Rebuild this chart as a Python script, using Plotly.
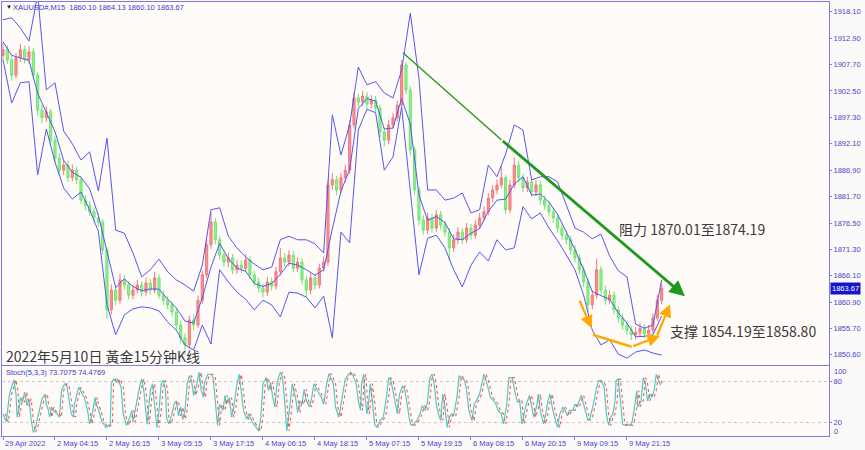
import plotly.graph_objects as go

# ---------------- data ----------------
# hourly candles (each = 4 bars of M15), bar index = 4*k
OPEN = [1909.5,1910.6,1908.6,1905.6,1909.0,1910.6,1908.6,1910.2,1905.6,1898.7,
1897.2,1898.4,1892.8,1889.3,1886.9,1887.9,1885.4,1886.9,1885.0,1881.0,
1880.0,1878.7,1877.5,1876.7,1871.2,1859.4,1863.3,1861.3,1865.3,1864.3,
1862.3,1863.3,1864.3,1862.9,1864.7,1863.3,1865.7,1862.3,1861.3,1860.4,
1859.0,1856.4,1853.9,1852.5,1857.4,1856.4,1861.3,1866.3,1872.2,1876.7,
1873.2,1870.2,1868.8,1869.6,1867.3,1868.2,1867.6,1869.2,1866.3,1864.9,
1863.7,1862.9,1864.9,1864.1,1866.9,1869.6,1868.8,1870.2,1867.6,1868.8,
1865.3,1863.3,1865.7,1864.3,1867.6,1868.8,1884.0,1885.0,1883.0,1885.4,
1886.9,1895.8,1901.1,1900.3,1901.5,1899.9,1900.7,1899.1,1894.4,1892.8,
1895.8,1897.2,1899.7,1907.6,1902.7,1890.9,1883.0,1877.1,1875.1,1877.5,
1875.5,1878.1,1876.1,1874.7,1871.6,1873.2,1874.7,1873.2,1875.5,1874.1,
1876.1,1877.5,1878.7,1881.4,1883.0,1884.0,1885.4,1879.1,1884.0,1887.9,
1885.4,1883.4,1884.6,1882.6,1884.0,1881.0,1880.0,1878.7,1877.5,1875.5,
1874.1,1873.2,1871.2,1869.6,1867.3,1864.9,1860.4,1862.3,1867.3,1863.3,
1861.3,1862.3,1859.4,1857.8,1856.4,1855.4,1854.5,1855.0,1855.8,1854.7,
1855.4,1857.8,1861.3]
HIGH = [1912.0,1911.5,1909.3,1910.0,1911.8,1911.4,1911.3,1910.9,1906.2,1899.8,
1899.5,1899.0,1893.6,1890.2,1889.0,1888.8,1888.0,1887.6,1885.8,1881.9,
1880.8,1879.6,1878.4,1877.3,1871.8,1864.4,1864.2,1866.5,1866.2,1865.0,
1864.3,1865.3,1865.0,1865.8,1865.5,1866.9,1866.4,1863.2,1862.1,1861.2,
1859.8,1857.2,1854.8,1858.3,1858.5,1862.2,1867.2,1873.3,1878.6,1877.5,
1874.0,1871.1,1870.7,1870.4,1869.3,1869.2,1870.4,1870.0,1867.1,1865.7,
1864.6,1865.9,1865.8,1867.9,1871.6,1870.6,1871.2,1871.0,1869.8,1869.6,
1866.1,1866.6,1866.5,1868.5,1869.9,1885.0,1886.3,1885.8,1886.4,1888.0,
1896.8,1902.3,1902.0,1902.5,1902.3,1901.7,1901.5,1899.8,1895.2,1896.8,
1898.2,1900.6,1908.6,1908.2,1903.4,1891.6,1883.7,1878.0,1878.5,1878.3,
1879.1,1878.9,1876.9,1875.5,1874.2,1875.7,1875.5,1876.5,1876.3,1877.1,
1878.5,1879.7,1882.4,1884.0,1885.0,1887.6,1886.0,1885.0,1889.4,1888.7,
1886.2,1885.6,1885.4,1885.0,1884.8,1881.9,1880.8,1879.5,1878.3,1876.3,
1875.0,1874.0,1872.1,1870.4,1868.1,1865.6,1863.3,1869.5,1868.0,1864.2,
1863.3,1863.0,1860.2,1858.6,1857.3,1856.3,1856.0,1856.8,1856.6,1856.4,
1858.8,1862.3,1864.6]
LOW = [1908.6,1907.8,1904.5,1905.0,1908.2,1907.9,1907.8,1904.8,1897.5,1896.1,
1896.4,1891.9,1888.5,1885.8,1886.0,1884.5,1884.7,1884.1,1880.2,1879.0,
1877.9,1876.6,1875.8,1870.3,1857.6,1858.5,1860.3,1860.6,1863.4,1861.4,
1861.5,1862.6,1862.0,1862.2,1862.4,1862.7,1861.5,1860.4,1859.5,1858.1,
1855.5,1852.8,1850.6,1851.8,1855.4,1855.8,1860.6,1865.6,1871.4,1872.3,
1869.3,1867.9,1867.8,1866.4,1866.5,1866.7,1866.9,1865.4,1864.0,1862.8,
1861.9,1862.1,1863.2,1863.4,1866.2,1867.9,1868.0,1866.8,1866.9,1864.4,
1861.8,1862.5,1863.4,1863.6,1866.9,1868.0,1883.0,1882.0,1882.3,1884.6,
1886.2,1895.1,1899.3,1899.5,1899.0,1899.0,1898.2,1893.4,1891.6,1892.0,
1895.0,1896.5,1899.0,1901.8,1889.8,1882.0,1876.0,1874.2,1874.3,1874.6,
1874.8,1875.2,1873.8,1869.0,1870.8,1872.4,1872.3,1872.5,1873.2,1873.4,
1875.4,1876.8,1878.0,1880.6,1882.2,1883.3,1878.2,1878.4,1883.3,1884.5,
1882.5,1882.6,1881.7,1881.8,1880.1,1879.1,1877.8,1876.6,1874.6,1873.2,
1872.3,1870.3,1868.7,1866.4,1863.9,1859.0,1859.5,1861.6,1862.4,1860.4,
1860.5,1858.5,1856.9,1855.5,1854.5,1853.4,1853.6,1854.2,1853.8,1853.9,
1854.7,1857.1,1860.5]
CLOSE = [1910.6,1908.6,1905.6,1909.0,1910.6,1908.6,1910.2,1905.6,1898.7,1897.2,
1898.4,1892.8,1889.3,1886.9,1887.9,1885.4,1886.9,1885.0,1881.0,1880.0,
1878.7,1877.5,1876.7,1871.2,1859.4,1863.3,1861.3,1865.3,1864.3,1862.3,
1863.3,1864.3,1862.9,1864.7,1863.3,1865.7,1862.3,1861.3,1860.4,1859.0,
1856.4,1853.9,1852.5,1857.4,1856.4,1861.3,1866.3,1872.2,1876.7,1873.2,
1870.2,1868.8,1869.6,1867.3,1868.2,1867.6,1869.2,1866.3,1864.9,1863.7,
1862.9,1864.9,1864.1,1866.9,1869.6,1868.8,1870.2,1867.6,1868.8,1865.3,
1863.3,1865.7,1864.3,1867.6,1868.8,1884.0,1885.0,1883.0,1885.4,1886.9,
1895.8,1901.1,1900.3,1901.5,1899.9,1900.7,1899.1,1894.4,1892.8,1895.8,
1897.2,1899.7,1907.6,1902.7,1890.9,1883.0,1877.1,1875.1,1877.5,1875.5,
1878.1,1876.1,1874.7,1871.6,1873.2,1874.7,1873.2,1875.5,1874.1,1876.1,
1877.5,1878.7,1881.4,1883.0,1884.0,1885.4,1879.1,1884.0,1887.9,1885.4,
1883.4,1884.6,1882.6,1884.0,1881.0,1880.0,1878.7,1877.5,1875.5,1874.1,
1873.2,1871.2,1869.6,1867.3,1864.9,1860.4,1862.3,1867.3,1863.3,1861.3,
1862.3,1859.4,1857.8,1856.4,1855.4,1854.5,1855.0,1855.8,1854.7,1855.4,
1857.8,1861.3,1863.67]

# Bollinger bands, sampled every 8 bars
BB_UPPER = [1916.5,1916.9,1914.9,1912.3,1921.5,1902.7,1904.1,1894.6,1892.1,1888.9,
1890.5,1882.8,1893.2,1875.1,1874.5,1870.6,1865.9,1867.3,1869.4,1866.9,
1865.3,1864.3,1863.1,1868.2,1879.1,1879.5,1873.9,1871.6,1869.8,1868.4,
1867.3,1867.8,1873.2,1873.9,1873.2,1873.2,1872.4,1870.6,1897.8,1889.9,
1895.8,1907.2,1903.7,1904.3,1902.1,1901.1,1906.6,1917.8,1905.0,1883.0,
1883.0,1881.0,1881.4,1882.4,1878.5,1879.1,1887.9,1885.6,1890.1,1895.8,
1894.8,1885.0,1885.6,1885.6,1884.6,1880.0,1875.5,1874.7,1873.4,1874.3,
1870.0,1867.1,1865.9,1856.6,1855.8,1856.4,1865.3]
BB_MIDDLE = [1912.2,1909.5,1909.0,1908.5,1902.0,1898.3,1894.5,1888.8,1886.5,1885.5,
1883.2,1878.0,1871.0,1863.8,1865.5,1864.0,1863.2,1863.5,1863.5,1861.5,
1859.8,1857.2,1856.8,1861.8,1867.8,1872.5,1869.5,1867.6,1867.0,1864.6,
1864.0,1864.6,1866.4,1868.6,1868.2,1867.3,1866.2,1867.3,1875.3,1882.8,
1887.0,1899.0,1901.0,1900.5,1895.0,1895.2,1901.0,1896.0,1882.0,1877.0,
1877.8,1876.6,1873.4,1873.2,1874.5,1875.4,1878.8,1881.0,1881.2,1884.2,
1885.6,1882.0,1882.2,1880.6,1878.2,1874.9,1871.3,1867.3,1863.0,1862.2,
1861.5,1858.8,1856.8,1854.1,1854.2,1854.5,1858.2]
BB_LOWER = [1908.6,1900.1,1904.1,1904.3,1886.0,1895.0,1888.5,1883.4,1881.2,1882.6,
1879.1,1874.9,1860.4,1854.5,1858.4,1859.6,1860.0,1859.8,1859.2,1857.0,
1855.4,1852.5,1851.5,1856.4,1852.7,1867.3,1864.9,1862.9,1861.5,1859.4,
1861.3,1860.4,1858.0,1862.9,1862.7,1861.9,1859.8,1862.1,1853.9,1874.7,
1872.6,1894.8,1898.9,1898.2,1886.9,1889.5,1899.3,1883.0,1866.3,1873.5,
1874.1,1871.6,1867.3,1863.9,1868.2,1870.8,1869.0,1873.2,1871.2,1871.6,
1879.7,1877.3,1878.5,1875.5,1873.0,1870.2,1867.3,1862.3,1855.4,1852.5,
1853.5,1850.7,1849.9,1851.1,1851.5,1850.9,1850.5]

# Stochastic (5,3,3) main line: bar index / value
STOCH_BAR = [0,3,6,10,12,13,15,16,18,20,
22,24,26,28,30,33,36,39,40,42,
43,45,46,50,52,54,57,59,61,63,
65,66,69,70,73,75,78,80,83,85,
86,88,91,95,99,100,102,105,106,109,
111,114,117,119,120,123,126,128,130,133,
134,136,138,140,142,144,146,148,150,151,
153,156,158,160,162,164,166,168,170,172,
174,176,179,181,183,185,186,189,192,194,
196,198,200,203,205,206,209,211,213,216,
218,220,222,225,227,230,232,234,236,238,
240,243,245,247,249,251,253,256,258,260,
262,265,267,270,272,274,276,278,280,283,
285,287,290,292,294,296,299,301,
305,307,310,313,316,319,321,323,326,328,
330,331,333,334,336,338,339,341,343,345,
348,351,354,356,358,360,362,364,366,369,
371,373,376,378,382,385,387,390,392,394,
396,398,400,402,404,406,408,410,412,414,
416,419,421,423,426,428,430,433,435,437,
440,442,444,446,448,450,453,455,457,460,
462,465,467,470,473,475,477,479,481,483,
486,488,490,493,494,496,499,501,503,505,
507,510,512,514,517,519,521,523,526,528,
530,533,534,536,538,540,542,545,548,550,
553,555,557,559,561,563,565,566,568,570,
572,574,576,579,581,583,585,586,589,591,
593,595,597,599,601,603,605,607]
STOCH_MAIN = [32,20,61,82,61,27,42,56,49,64,
44,54,24,5,12,32,54,61,46,37,
27,42,37,32,27,66,76,73,51,32,
27,46,66,71,61,56,37,17,37,56,
46,39,22,12,17,76,83,78,83,71,
32,15,27,37,20,46,71,83,66,17,
32,66,76,46,12,37,76,81,66,27,
17,32,46,51,29,42,24,37,76,88,
81,59,76,93,66,56,78,90,90,85,
51,15,46,37,59,46,56,27,42,76,
90,66,37,24,32,20,15,12,7,27,
76,85,66,78,56,42,78,93,85,51,
7,46,76,56,34,51,46,68,51,42,
56,76,66,61,56,46,78,91,
76,42,27,56,83,90,93,88,76,51,
37,76,90,61,32,56,76,51,17,12,
22,27,56,85,81,66,46,32,61,73,
66,46,17,15,22,32,44,37,51,85,
90,76,46,32,22,61,42,12,27,32,
29,56,88,85,81,66,37,22,46,51,
61,76,90,81,66,56,51,46,37,32,
17,46,85,85,61,49,51,17,32,46,
59,42,27,46,61,37,17,32,51,61,
42,22,12,32,42,37,29,37,37,46,
42,56,59,46,32,22,27,46,71,81,
78,71,32,15,27,32,51,81,83,46,
17,15,17,15,22,42,66,42,51,85,
76,51,61,56,66,90,81,74]

TIME_TICK_BARS = [0,48,96,144,192,240,288,336,384,432,480,528,576]
TIME_TICK_TEXT = ["29 Apr 2022","2 May 04:15","2 May 16:15","3 May 05:15","3 May 17:15",
                  "4 May 06:15","4 May 18:15","5 May 07:15","5 May 19:15","6 May 08:15",
                  "6 May 20:15","9 May 09:15","9 May 21:15"]
PRICE_TICKS = [1918.10,1912.90,1907.70,1902.50,1897.30,1892.10,1886.90,1881.70,
               1876.50,1871.30,1866.10,1860.90,1855.70,1850.60]
LAST_PRICE = 1863.67

# drawn objects (bar index, price)
TREND_BAR = [369.2, 460.0, 629.5]
TREND_PRICE = [1910.0, 1892.9, 1862.1]
SUPPORT_BAR = [531.7, 543.4, 544.6, 580.3, 606.5, 603.4, 615.7]
SUPPORT_PRICE = [1861.5, 1855.8, 1854.5, 1852.15, 1854.3, 1854.1, 1860.5]

# ---------------- layout helpers ----------------
W, H = 865, 450
ML, MR, MT, MB = 2, 36, 2, 14
PW, PH = W - ML - MR, H - MT - MB
def px_x(px):
    return (px - ML) / PW
def px_y(py):
    return (H - MB - py) / PH

FRAME = '#7d7de0'
AXTXT = '#4646c8'
TFONT = 'Liberation Sans'

XR = [-0.92, 762.5]
YR = [1848.55, 1920.0]
Y2R = [-0.44, 102.05]

candle_bar = list(range(0, 4 * len(CLOSE), 4))
band_bar = list(range(0, 8 * len(BB_MIDDLE), 8))

fig = go.Figure()
fig.add_trace(go.Candlestick(
    x=candle_bar, open=OPEN, high=HIGH, low=LOW, close=CLOSE,
    increasing=dict(line=dict(color='#f27878', width=1), fillcolor='#f79494'),
    decreasing=dict(line=dict(color='#6ee46e', width=1), fillcolor='#90f490'),
    whiskerwidth=0, xaxis='x', yaxis='y', hoverinfo='skip'))
for arr in (BB_UPPER, BB_MIDDLE, BB_LOWER):
    fig.add_trace(go.Scatter(x=band_bar, y=arr, mode='lines',
                             line=dict(color='#5656f2', width=1), xaxis='x', yaxis='y',
                             hoverinfo='skip'))

# trend line (thin start) + thick arrow
fig.add_trace(go.Scatter(x=TREND_BAR[:2], y=TREND_PRICE[:2], mode='lines',
                         line=dict(color='#1d9a1d', width=1.3), xaxis='x', yaxis='y',
                         hoverinfo='skip'))
# orange support polyline middle piece
fig.add_trace(go.Scatter(x=SUPPORT_BAR[2:4], y=SUPPORT_PRICE[2:4], mode='lines',
                         line=dict(color='#ffaa00', width=2.5), xaxis='x', yaxis='y',
                         hoverinfo='skip'))

# stochastic
fig.add_trace(go.Scatter(x=STOCH_BAR, y=STOCH_MAIN, mode='lines',
                         line=dict(color='#52c9c1', width=1.2), xaxis='x2', yaxis='y2',
                         hoverinfo='skip'))
fig.add_trace(go.Scatter(x=[b + 2 for b in STOCH_BAR], y=STOCH_MAIN, mode='lines',
                         line=dict(color='#f05a5a', width=1.1, dash='dot'),
                         xaxis='x2', yaxis='y2', hoverinfo='skip'))

ann = []
# header
ann.append(dict(text='▼', x=px_x(4), y=px_y(7), xref='paper', yref='paper',
                xanchor='left', yanchor='middle', showarrow=False,
                font=dict(size=6, color='#202040', family=TFONT)))
ann.append(dict(text='XAUUSD#,M15  1860.10 1864.13 1860.10 1863.67', x=px_x(11), y=px_y(7),
                xref='paper', yref='paper', xanchor='left', yanchor='middle', showarrow=False,
                font=dict(size=7.5, color='#3c3cc8', family=TFONT)))
ann.append(dict(text='Stoch(5,3,3) 73.7075 74.4769', x=px_x(4), y=px_y(372),
                xref='paper', yref='paper', xanchor='left', yanchor='middle', showarrow=False,
                font=dict(size=7.5, color='#3c3cc8', family=TFONT)))
CJK = 'Noto Sans CJK SC'
ann.append(dict(text='2022年5月10日 黃金15分钟K线', x=px_x(4), y=px_y(356),
                xref='paper', yref='paper', xanchor='left', yanchor='middle', showarrow=False,
                font=dict(size=14, color='#3a3a3a', family=CJK)))
ann.append(dict(text='阻力 1870.01至1874.19', x=px_x(617), y=px_y(229),
                xref='paper', yref='paper', xanchor='left', yanchor='middle', showarrow=False,
                font=dict(size=14, color='#3a3a3a', family=CJK)))
ann.append(dict(text='支撑 1854.19至1858.80', x=px_x(668), y=px_y(331),
                xref='paper', yref='paper', xanchor='left', yanchor='middle', showarrow=False,
                font=dict(size=14, color='#3a3a3a', family=CJK)))
# green arrow
ann.append(dict(x=TREND_BAR[2], y=TREND_PRICE[2], ax=TREND_BAR[1], ay=TREND_PRICE[1],
                xref='x', yref='y', axref='x', ayref='y', showarrow=True, text='',
                arrowhead=2, arrowsize=1.1, arrowwidth=2.8, arrowcolor='#1d9a1d'))
# orange arrows
ann.append(dict(x=SUPPORT_BAR[1], y=SUPPORT_PRICE[1], ax=SUPPORT_BAR[0], ay=SUPPORT_PRICE[0],
                xref='x', yref='y', axref='x', ayref='y', showarrow=True, text='',
                arrowhead=2, arrowsize=1.1, arrowwidth=2.3, arrowcolor='#ffaa00'))
ann.append(dict(x=SUPPORT_BAR[4], y=SUPPORT_PRICE[4], ax=SUPPORT_BAR[3], ay=SUPPORT_PRICE[3],
                xref='x', yref='y', axref='x', ayref='y', showarrow=True, text='',
                arrowhead=2, arrowsize=1.1, arrowwidth=2.3, arrowcolor='#ffaa00'))
ann.append(dict(x=SUPPORT_BAR[6], y=SUPPORT_PRICE[6], ax=SUPPORT_BAR[5], ay=SUPPORT_PRICE[5],
                xref='x', yref='y', axref='x', ayref='y', showarrow=True, text='',
                arrowhead=2, arrowsize=1.1, arrowwidth=2.3, arrowcolor='#ffaa00'))
# current price box
ann.append(dict(text=f'{LAST_PRICE:.2f}', x=px_x(830), y=LAST_PRICE, xref='paper', yref='y',
                xanchor='left', yanchor='middle', showarrow=False, bgcolor='#1414c8',
                borderpad=1, font=dict(size=7.5, color='white', family=TFONT)))
# stoch scale end labels
ann.append(dict(text='100', x=px_x(832), y=px_y(371.7), xref='paper', yref='paper',
                xanchor='left', yanchor='middle', showarrow=False,
                font=dict(size=7.5, color=AXTXT, family=TFONT)))
ann.append(dict(text='0', x=px_x(832), y=px_y(431.7), xref='paper', yref='paper',
                xanchor='left', yanchor='middle', showarrow=False,
                font=dict(size=7.5, color=AXTXT, family=TFONT)))
# time labels (left aligned at tick)
for b, t in zip(TIME_TICK_BARS, TIME_TICK_TEXT):
    ann.append(dict(text=t, x=b, y=px_y(443), xref='x2', yref='paper', xanchor='left',
                    yanchor='middle', showarrow=False,
                    font=dict(size=7.5, color=AXTXT, family=TFONT)))

main_dom = [px_y(365), 1.0]
st_dom = [0.0, px_y(366)]

fig.update_layout(
    width=W, height=H, margin=dict(l=ML, r=MR, t=MT, b=MB),
    paper_bgcolor='#fcfaf9', plot_bgcolor='#fffbf9', showlegend=False,
    hovermode=False, annotations=ann,
    xaxis=dict(domain=[0, 1], anchor='y', range=XR, showline=True, mirror=True,
               linecolor=FRAME, linewidth=1, showgrid=False, zeroline=False,
               showticklabels=False, ticks='', rangeslider=dict(visible=False)),
    yaxis=dict(domain=main_dom, anchor='x', range=YR, side='right', showline=True,
               mirror=True, linecolor=FRAME, linewidth=1, showgrid=False, zeroline=False,
               tickvals=PRICE_TICKS, ticktext=[f'{v:.2f}' for v in PRICE_TICKS],
               ticks='outside', ticklen=2, tickcolor=FRAME,
               tickfont=dict(size=7.5, color=AXTXT, family=TFONT)),
    xaxis2=dict(domain=[0, 1], anchor='y2', range=XR, showline=True, mirror=True,
                linecolor=FRAME, linewidth=1, showgrid=False, zeroline=False,
                tickvals=TIME_TICK_BARS, ticks='outside', ticklen=3, tickcolor=FRAME,
                showticklabels=False),
    yaxis2=dict(domain=st_dom, anchor='x2', range=Y2R, side='right', showline=True,
                mirror=True, linecolor=FRAME, linewidth=1, zeroline=False,
                showgrid=True, gridcolor='#c9c9c9', griddash='dot', gridwidth=1,
                tickvals=[80, 20], ticktext=['80', '20'], ticks='outside', ticklen=2,
                tickcolor=FRAME, tickfont=dict(size=7.5, color=AXTXT, family=TFONT)),
)

fig.write_html('out.html', config={'displayModeBar': False, 'staticPlot': True},
               post_script="document.body.style.margin='0';"
                           "document.documentElement.style.overflow='hidden';")
